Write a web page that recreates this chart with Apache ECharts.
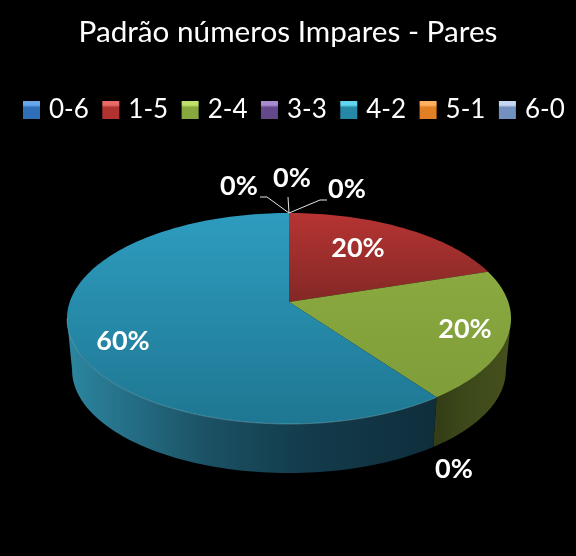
<!DOCTYPE html>
<html>
<head>
<meta charset="utf-8">
<style>html,body{margin:0;padding:0;background:#000}#c{width:576px;height:556px}</style>
<script src="https://cdn.jsdelivr.net/npm/echarts@6/dist/echarts.min.js"></script>
</head>
<body>
<div id="c"></div>
<script>
const titleText = 'Padrão números Impares - Pares';
const categories = ['0-6', '1-5', '2-4', '3-3', '4-2', '5-1', '6-0'];
const values = [0, 20, 20, 0, 60, 0, 0];

const swatchColors = [
  ['#6aa6ea', '#2f6fb8'], ['#ea6a66', '#b03330'], ['#c0e06c', '#86a83c'], ['#a98bd0', '#64488c'],
  ['#62d6f0', '#2488a6'], ['#ffb060', '#e07f24'], ['#c8d8f2', '#7391c0']
];
const topStops = [
  ['#4f81bd', '#3a6aa0'], ['#b63432', '#832826'], ['#8aa940', '#7f9d39'], ['#8064a2', '#604a7b'],
  ['#2e9cbf', '#1e7792'], ['#f79646', '#c87730'], ['#95b3d7', '#7090b8']
];
const sideStops = [
  ['#2f5a8a', '#1a3350'], ['#7a2a28', '#401513'], ['#333d16', '#444f1c'], ['#4a3a60', '#2a2038'],
  ['#2c86a0', '#0f2e3c'], ['#9a5c28', '#5a3515'], ['#5a7090', '#344058']
];
// label anchor (centre) and optional leader elbow for each category
const labelAt = [[347, 189], [358, 248], [465, 329], [454, 469], [123, 341], [239, 186], [292, 178]];
const elbows = [[[327, 200], [320, 200]], null, null, null, null, [[260, 197], [267, 197]], [[288, 197]]];

// perspective disc geometry
const CX = 289, CY = 302, A = 219.3, B = 102.9, K = 0.1564;
const ELL_CY = 318.5, BASE_CY = 370, BASE_S = 0.977;
const FRONT_A = 99, FRONT_B = 261;

function rim(deg) {
  const t = deg * Math.PI / 180, s = 1 / (1 + K * Math.cos(t));
  return [CX + A * Math.sin(t) * s, CY - B * Math.cos(t) * s];
}
function base(deg) {
  const p = rim(deg);
  return [CX + (p[0] - CX) * BASE_S, BASE_CY + (p[1] - ELL_CY) * BASE_S];
}
function arc(fn, a, b) {
  const pts = [], n = Math.max(2, Math.ceil(Math.abs(b - a) / 1.5));
  for (let i = 0; i <= n; i++) pts.push(fn(a + (b - a) * i / n));
  return pts;
}
function mix(c1, c2, t) {
  const p = c => [1, 3, 5].map(i => parseInt(c.substr(i, 2), 16));
  const x = p(c1), y = p(c2);
  return 'rgb(' + x.map((v, i) => Math.round(v + (y[i] - v) * t)).join(',') + ')';
}

const total = values.reduce((s, v) => s + v, 0);
const startAngle = values.map((v, i) => values.slice(0, i).reduce((s, x) => s + x, 0) / total * 360);
const grad = echarts.graphic.LinearGradient;

const series = categories.map((name, idx) => ({
  type: 'custom',
  name,
  coordinateSystem: 'none',
  itemStyle: { color: topStops[idx][0] },
  data: [values[idx]],
  silent: true,
  renderItem: function (params, api) {
    const value = api.value(0);
    const a = startAngle[idx], b = a + value / total * 360;
    const children = [];
    const sa = Math.max(a, FRONT_A), sb = Math.min(b, FRONT_B);
    if (value > 0 && sb > sa) {
      const topEdge = arc(rim, sa, sb), baseEdge = arc(base, sb, sa);
      const xs = topEdge.map(p => p[0]);
      const x0 = Math.min(...xs), x1 = Math.max(...xs);
      const c0 = sideStops[idx][0], c1 = sideStops[idx][1];
      children.push({
        type: 'polygon',
        shape: { points: topEdge.concat(baseEdge) },
        style: {
          fill: new grad(x0, 0, x1, 0, [
            { offset: 0, color: c0 },
            { offset: 0.38, color: mix(c0, c1, 0.6) },
            { offset: 0.65, color: mix(c0, c1, 0.85) },
            { offset: 1, color: c1 }
          ], true)
        }
      });
    }
    if (value > 0) {
      const edge = arc(rim, a, b);
      const pts = [[CX, CY]].concat(edge);
      const ys = pts.map(p => p[1]);
      const y0 = Math.min(...ys), y1 = Math.max(...ys);
      const fill = new grad(0, y0, 0, y1, [
        { offset: 0, color: topStops[idx][0] },
        { offset: 1, color: topStops[idx][1] }
      ], true);
      children.push({ type: 'polygon', shape: { points: pts }, style: { fill: fill } });
      if (sb > sa && b - a > 180) {
        children.push({
          type: 'polyline',
          shape: { points: arc(rim, sa, sb) },
          style: { fill: null, stroke: 'rgba(190,235,245,0.3)', lineWidth: 1 }
        });
      }
    }
    if (elbows[idx]) {
      const linePts = [rim((a + b) / 2)].concat(elbows[idx].slice().reverse());
      children.push({
        type: 'polyline',
        shape: { points: linePts },
        style: { fill: null, stroke: '#e6e6e6', lineWidth: 1 }
      });
    }
    children.push({
      type: 'text',
      z2: 10,
      style: {
        text: Math.round(value / total * 100) + '%',
        x: labelAt[idx][0], y: labelAt[idx][1],
        align: 'center', verticalAlign: 'middle',
        fill: '#fff',
        font: 'bold 27px Lato, "Open Sans", sans-serif'
      }
    });
    return { type: 'group', children };
  }
}));

const chart = echarts.init(document.getElementById('c'), null, { renderer: 'canvas' });
chart.setOption({
  backgroundColor: '#000',
  animation: false,
  title: {
    text: titleText,
    left: 'center',
    top: 12,
    textStyle: { color: '#fff', fontSize: 29.7, fontWeight: 'normal', fontFamily: 'Lato, "Open Sans", sans-serif' }
  },
  legend: {
    left: 23, top: 97, itemWidth: 17, itemHeight: 18, itemGap: 13.5, padding: 0,
    icon: 'rect',
    selectedMode: false,
    textStyle: { color: '#fff', fontSize: 26, fontFamily: 'Lato, "Open Sans", sans-serif', padding: [3, 0, 0, 4] },
    data: categories.map((name, i) => ({
      name,
      itemStyle: {
        color: new grad(0, 0, 0, 1, [
          { offset: 0, color: swatchColors[i][0] },
          { offset: 0.22, color: swatchColors[i][0] },
          { offset: 0.36, color: swatchColors[i][1] },
          { offset: 1, color: swatchColors[i][1] }
        ])
      }
    }))
  },
  series
});
</script>
</body>
</html>
